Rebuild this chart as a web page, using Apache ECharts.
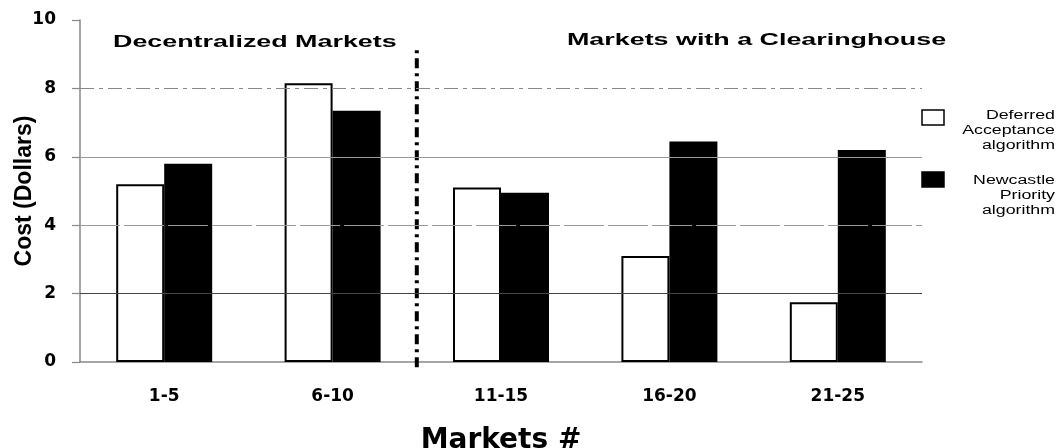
<!DOCTYPE html>
<html>
<head>
<meta charset="utf-8">
<title>Cost by market group</title>
<script src="https://cdn.jsdelivr.net/npm/echarts@6/dist/echarts.min.js"></script>
<style>
  html, body { margin: 0; padding: 0; background: #fff; }
  #chart { width: 1058px; height: 448px; }
</style>
</head>
<body>
<div id="chart"></div>
<script>
// Market groups and average cost per algorithm (dollars)
const categories = ['1-5', '6-10', '11-15', '16-20', '21-25'];
const deferredCost = [5.2, 8.15, 5.1, 3.1, 1.75];
const newcastleCost = [5.8, 7.35, 4.95, 6.45, 6.2];
const seriesNames = ['Deferred Acceptance algorithm', 'Newcastle Priority algorithm'];
const legendLines = [['Deferred', 'Acceptance', 'algorithm'], ['Newcastle', 'Priority', 'algorithm']];
const regionTitles = ['Decentralized Markets', 'Markets with a Clearinghouse'];
const yMin = 0, yMax = 10, yStep = 2;
const gridValues = [2, 4, 6, 8];
const dividerAt = 1.5;          // between the 2nd and 3rd market group
const dividerSpan = [-0.15, 9.2];

const chart = echarts.init(document.getElementById('chart'));

const gridStyles = {
  2: { color: '#444', width: 1.2, type: 'solid' },
  4: { color: '#999', width: 1.2, type: [40, 4] },
  6: { color: '#999', width: 1.2, type: 'solid' },
  8: { color: '#888', width: 1.2, type: [14, 5, 4, 5] }
};

const legendBoxTop = [110, 172];
const legendLineY = [[116, 131, 146], [181, 196, 211]];

const graphic = [];
// region headings
graphic.push({
  type: 'text', x: 113, y: 42, scaleX: 1.58,
  style: { text: regionTitles[0], font: 'bold 17px "Liberation Sans", Arial, sans-serif',
           fill: '#000', textAlign: 'left', textVerticalAlign: 'middle' }
});
graphic.push({
  type: 'text', x: 567, y: 40, scaleX: 1.58,
  style: { text: regionTitles[1], font: 'bold 17px "Liberation Sans", Arial, sans-serif',
           fill: '#000', textAlign: 'left', textVerticalAlign: 'middle' }
});
// legend: swatches and right-aligned labels
[0, 1].forEach(function (i) {
  graphic.push({
    type: 'rect', x: 922, y: legendBoxTop[i],
    shape: { width: 22, height: 15 },
    style: { fill: i === 0 ? '#fff' : '#000', stroke: '#000', lineWidth: 1.5 }
  });
  legendLines[i].forEach(function (line, k) {
    graphic.push({
      type: 'text', x: 1055, y: legendLineY[i][k], scaleX: 1.48,
      style: { text: line, font: '12px "Liberation Sans", Arial, sans-serif',
               fill: '#000', textAlign: 'right', textVerticalAlign: 'middle' }
    });
  });
});

const option = {
  animation: false,
  backgroundColor: '#fff',
  grid: { left: 80, right: 136, top: 20, bottom: 86, containLabel: false, outerBoundsMode: 'none' },
  xAxis: [
    {
      type: 'category',
      data: categories,
      name: 'Markets #',
      nameLocation: 'middle',
      nameGap: 65,
      nameMoveOverlap: false,
      nameTextStyle: { fontFamily: 'DejaVu Sans', fontWeight: 'bold', fontSize: 28, color: '#000' },
      axisLine: { onZero: false, lineStyle: { color: '#888', width: 1.5 } },
      axisTick: { show: false },
      axisLabel: { margin: 26, fontFamily: 'DejaVu Sans', fontWeight: 'bold', fontSize: 17, color: '#000' }
    },
    {
      type: 'value', min: -0.5, max: categories.length - 0.5, show: false
    }
  ],
  yAxis: {
    type: 'value',
    min: yMin, max: yMax, interval: yStep,
    name: 'Cost (Dollars)',
    nameLocation: 'middle',
    nameGap: 44,
    nameRotate: 90,
    nameMoveOverlap: false,
    nameTextStyle: { fontFamily: '"Liberation Sans", Arial, sans-serif', fontWeight: 'bold', fontSize: 23, color: '#000' },
    axisLine: { show: true, onZero: false, lineStyle: { color: '#888', width: 1.5 } },
    axisTick: { show: true, length: 8, lineStyle: { color: '#888', width: 1.2 } },
    axisLabel: { margin: 24, fontFamily: 'DejaVu Sans', fontWeight: 'bold', fontSize: 17, color: '#000' },
    splitLine: { show: false }
  },
  graphic: graphic,
  series: [
    {
      // horizontal guide lines behind the bars
      type: 'line', data: [], z: 0, silent: true,
      markLine: {
        silent: true, symbol: 'none', label: { show: false },
        data: gridValues.map(function (v) { return { yAxis: v, lineStyle: gridStyles[v] }; })
      }
    },
    {
      name: seriesNames[0],
      type: 'bar',
      data: deferredCost,
      barGap: '0%',
      barCategoryGap: '43%',
      z: 3,
      itemStyle: { color: '#fff', borderColor: '#000', borderWidth: 2 }
    },
    {
      name: seriesNames[1],
      type: 'bar',
      data: newcastleCost,
      z: 3,
      itemStyle: { color: '#000', borderColor: '#000', borderWidth: 2 }
    },
    {
      // dash-dot divider between decentralized and clearinghouse markets
      type: 'line',
      xAxisIndex: 1,
      data: [[dividerAt, dividerSpan[0]], [dividerAt, dividerSpan[1]]],
      symbol: 'none',
      clip: false,
      z: 4,
      silent: true,
      lineStyle: { color: '#000', width: 4, type: [10, 5, 3, 5] }
    }
  ]
};

chart.setOption(option);
</script>
</body>
</html>
